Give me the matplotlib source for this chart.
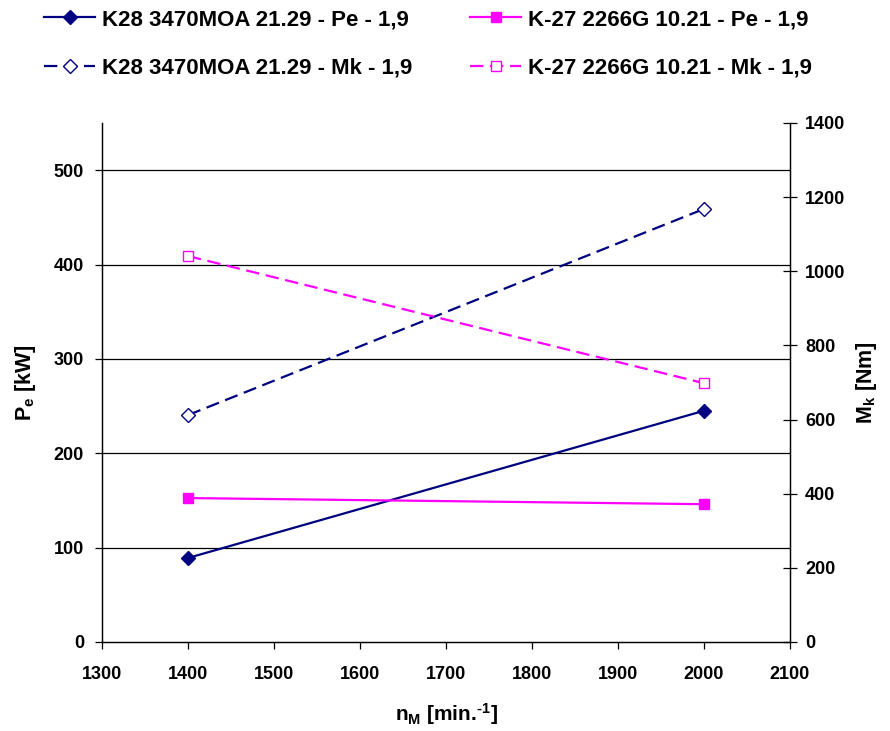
import matplotlib
matplotlib.use('Agg')
import matplotlib.pyplot as plt

plt.rcParams['font.family'] = ['Liberation Sans', 'DejaVu Sans']
plt.rcParams['font.weight'] = 'bold'
plt.rcParams['axes.labelweight'] = 'bold'
plt.rcParams['mathtext.fontset'] = 'custom'
plt.rcParams['mathtext.rm'] = 'Liberation Sans:bold'
plt.rcParams['mathtext.it'] = 'Liberation Sans:bold'
plt.rcParams['mathtext.bf'] = 'Liberation Sans:bold'

rpm = [1400, 2000]
pe_k28 = [89, 245]
pe_k27 = [152.5, 146]
mk_k28 = [612, 1168]
mk_k27 = [1041, 698]

navy = '#000080'
magenta = '#FF00FF'

fig = plt.figure(figsize=(8.9, 7.31), dpi=100)
ax = fig.add_axes([0.1146, 0.1218, 0.773, 0.710])
ax2 = ax.twinx()

l1, = ax.plot(rpm, pe_k28, color=navy, lw=1.6, marker='D', ms=7,
              mfc=navy, mec=navy, label='K28 3470MOA 21.29 - Pe - 1,9')
l3, = ax.plot(rpm, pe_k27, color=magenta, lw=1.6, marker='s', ms=7,
              mfc=magenta, mec=magenta, label='K-27 2266G 10.21 - Pe - 1,9')
l2, = ax2.plot(rpm, mk_k28, color=navy, lw=1.6, ls=(0, (6, 3)), marker='D', ms=7,
               mfc='white', mec=navy, mew=1.0, label='K28 3470MOA 21.29 - Mk - 1,9')
l4, = ax2.plot(rpm, mk_k27, color=magenta, lw=1.6, ls=(0, (6, 3)), marker='s', ms=7,
               mfc='white', mec=magenta, mew=1.0, label='K-27 2266G 10.21 - Mk - 1,9')

ax.set_xlim(1300, 2100)
ax.set_ylim(0, 550)
ax2.set_ylim(0, 1400)
ax.set_xticks(range(1300, 2101, 100))
ax.set_yticks(range(0, 501, 100))
ax2.set_yticks(range(0, 1401, 200))

for y in range(100, 501, 100):
    ax.axhline(y, color='black', lw=0.9, zorder=0)

for a in (ax, ax2):
    a.spines['top'].set_visible(False)
    for s in a.spines.values():
        s.set_linewidth(0.9)
ax.tick_params(axis='y', direction='out', length=5, width=0.9, labelsize=13, pad=8)
ax.tick_params(axis='x', direction='out', length=5, width=0.9, labelsize=13, pad=12)
ax2.tick_params(axis='y', direction='inout', length=10, width=0.9, labelsize=13, pad=6)

ax.set_ylabel(r'$\mathrm{P_e}$ [kW]', fontsize=15.5, labelpad=11)
ax2.set_ylabel(r'$\mathrm{M_k}$ [Nm]', fontsize=15.5, labelpad=6)
ax.set_xlabel('$\\mathrm{n_M}$ [min.$^{\u20101}$]', fontsize=15, labelpad=13)

fig.legend(handles=[l1, l2, l3, l4], loc='upper left', bbox_to_anchor=(0.027, 1.015),
           ncol=2, frameon=False, fontsize=16, handlelength=2.3, handletextpad=0.3,
           columnspacing=2.6, labelspacing=1.25)

fig.savefig('out.png', dpi=100)
